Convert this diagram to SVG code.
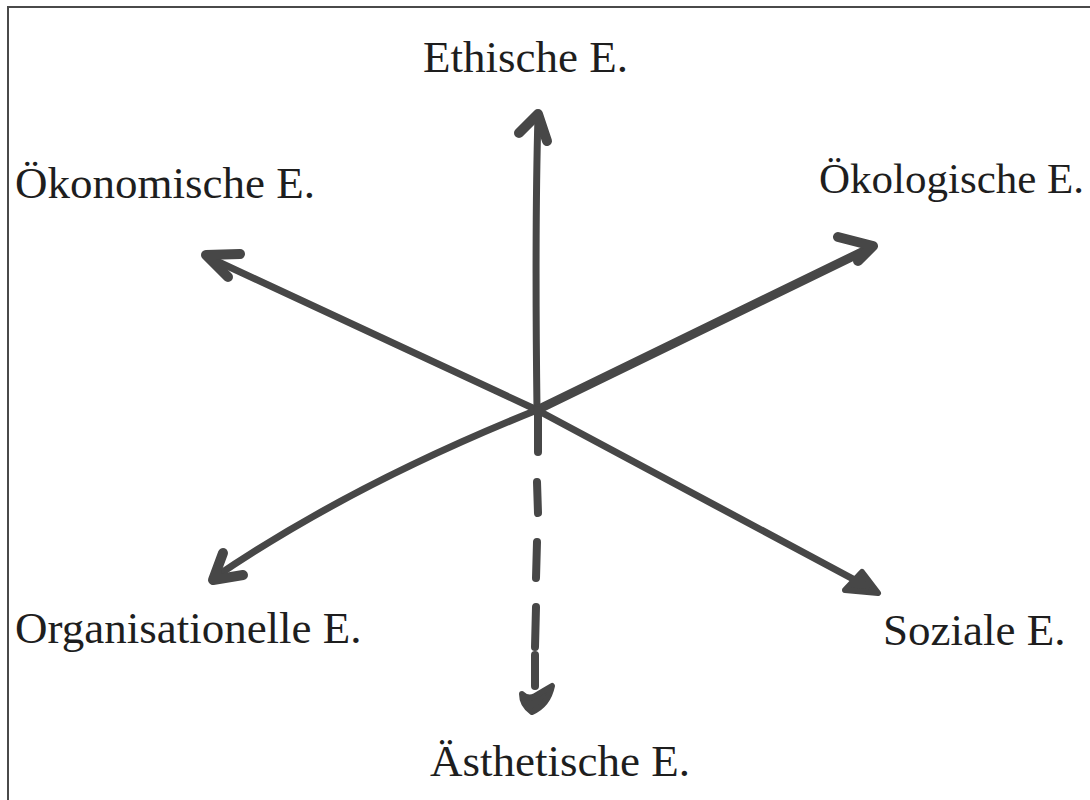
<svg xmlns="http://www.w3.org/2000/svg" width="1090" height="800" viewBox="0 0 1090 800">
<style>
.lbl{font-family:"Liberation Serif","Times New Roman",serif;font-size:45px;fill:#1e1e1e}
.ax{fill:none;stroke:#474747;stroke-width:7;stroke-linecap:round;stroke-linejoin:round}
.hd{fill:none;stroke:#474747;stroke-width:10;stroke-linecap:round;stroke-linejoin:round}
.fh{fill:#474747;stroke:#474747;stroke-width:6;stroke-linejoin:round}
</style>
<rect width="1090" height="800" fill="#ffffff"/>
<path d="M8,800 V7 H1090" fill="none" stroke="#4a4a4a" stroke-width="2"/>
<g id="connectors">
<g id="ethisch-axis">
<path class="ax" d="M537,410 C536,330 535,220 538,116"/>
<path class="hd" d="M519,133 L538,114 L547,141"/>
</g>
<g id="oekonomisch-axis">
<path class="ax" d="M537,410 L208,257"/>
<path class="hd" d="M240,254 L206,255 L228,277"/>
</g>
<g id="oekologisch-axis">
<path class="ax" d="M537,410 L870,248" style="stroke-width:9"/>
<path class="hd" d="M838,237 L873,246 L858,261"/>
</g>
<g id="organisationell-axis">
<path class="ax" d="M537,410 Q350,485 214,578"/>
<path class="hd" d="M223,553 L213,580 L243,575"/>
</g>
<g id="sozial-axis">
<path class="ax" d="M537,410 L868,587"/>
<path class="fh" d="M862,572 L878,593 L845,590 Z"/>
</g>
<g id="aesthetisch-axis">
<path class="ax" d="M538,410 L538,452" style="stroke-width:8"/>
<path class="ax" d="M537,482 L538,513" style="stroke-width:8"/>
<path class="ax" d="M537,542 L536,578" style="stroke-width:8"/>
<path class="ax" d="M536,607 L535,647" style="stroke-width:8"/>
<path class="ax" d="M535,655 L535,686" style="stroke-width:8"/>
<path class="fh" d="M522,694 Q528,700 535,696 Q545,690 552,686 Q548,705 532,712 Q522,705 522,694 Z"/>
</g>
</g>
<g id="node-ethisch"><text class="lbl" x="423" y="72">Ethische E.</text></g>
<g id="node-oekonomisch"><text class="lbl" x="15" y="198">Ökonomische E.</text></g>
<g id="node-oekologisch"><text class="lbl" x="819" y="193" style="font-size:43px">Ökologische E.</text></g>
<g id="node-organisationell"><text class="lbl" x="15" y="643">Organisationelle E.</text></g>
<g id="node-sozial"><text class="lbl" x="883" y="645">Soziale E.</text></g>
<g id="node-aesthetisch"><text class="lbl" x="430" y="776">Ästhetische E.</text></g>
</svg>
